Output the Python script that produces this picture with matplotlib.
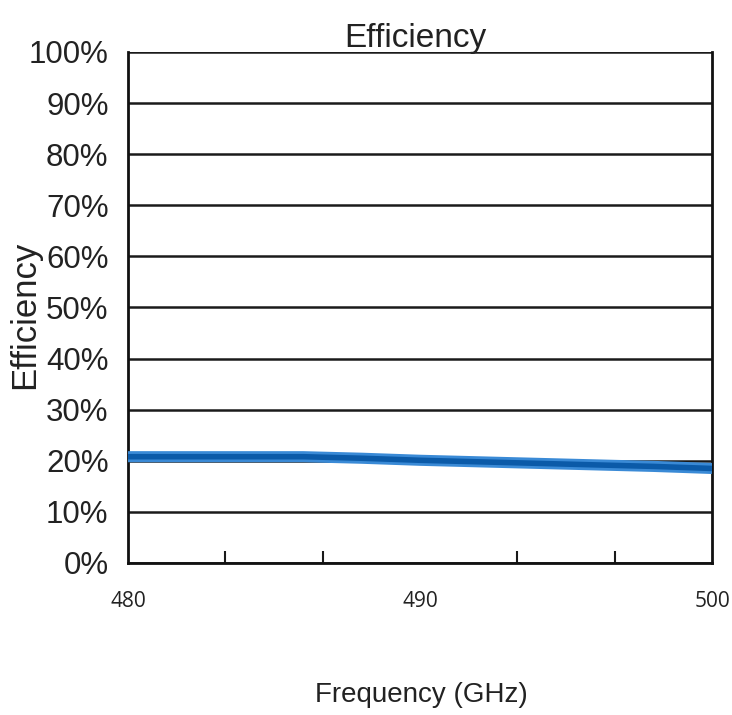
import matplotlib.pyplot as plt
from matplotlib.ticker import FixedLocator

# Efficiency vs frequency
freq_ghz = [480, 482, 484, 486, 488, 490, 492, 494, 496, 498, 500]
efficiency = [20.8, 20.8, 20.8, 20.8, 20.5, 20.1, 19.8, 19.5, 19.2, 18.9, 18.5]

y_ticks = list(range(0, 101, 10))
y_labels = [f"{v}%" for v in y_ticks]
x_labels = [480, 490, 500]
x_minor = [480 + i * 20 / 6 for i in range(1, 6)]

fig = plt.figure(figsize=(7.32, 7.15), dpi=100)
ax = fig.add_axes([0.1749, 0.2126, 0.7978, 0.7147])

# Horizontal grid lines
for v in y_ticks:
    ax.axhline(v, color="#1a1a1a", lw=1.8, zorder=1)

# Efficiency curve
ax.plot(freq_ghz, efficiency, color="#3a8ad6", lw=8, solid_capstyle="butt", zorder=3)
ax.plot(freq_ghz, efficiency, color="#0b5aa8", lw=4, solid_capstyle="butt", zorder=4)

ax.set_xlim(480, 500)
ax.set_ylim(0, 100)

ax.set_yticks(y_ticks)
ax.set_yticklabels(y_labels, fontsize=22.5, family="Liberation Sans", color="#222222")
ax.tick_params(axis="y", length=0, pad=14)

ax.set_xticks(x_labels)
ax.set_xticklabels([str(v) for v in x_labels], fontsize=15, family="Open Sans", color="#222222")
ax.xaxis.set_minor_locator(FixedLocator(x_minor))
ax.tick_params(axis="x", which="both", direction="in", length=9, width=1.5, pad=20, color="#1a1a1a")
ax.tick_params(axis="x", which="major", length=0)

for side in ["left", "bottom", "right"]:
    ax.spines[side].set_linewidth(2)
    ax.spines[side].set_color("#111111")
ax.spines["top"].set_visible(False)

fig.text(0.567, 0.934, "Efficiency", fontsize=24, family="Liberation Sans",
         ha="center", va="baseline", color="#222222")
fig.text(0.034, 0.559, "Efficiency", fontsize=25, family="Liberation Sans",
         rotation=90, ha="center", va="center", color="#222222")
fig.text(0.576, 0.018, "Frequency (GHz)", fontsize=20, family="Liberation Sans",
         ha="center", va="baseline", color="#222222")

fig.savefig("out.png", dpi=100)
